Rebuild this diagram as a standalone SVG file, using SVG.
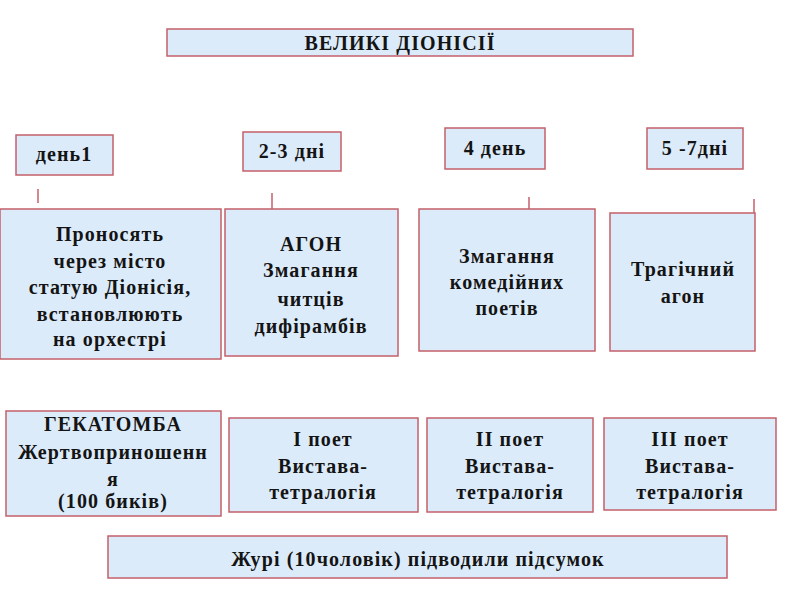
<svg xmlns="http://www.w3.org/2000/svg" width="800" height="600" viewBox="0 0 800 600">
<style>
.box{fill:#dcebfa;stroke:#c4606a;stroke-width:1.5}
.t{font-family:"Liberation Serif","DejaVu Serif",serif;font-weight:bold;font-size:20px;fill:#141414;text-anchor:middle;letter-spacing:1.1px}
.c{stroke:#c4606a;stroke-width:1.5;fill:none}
</style>
<rect width="800" height="600" fill="#ffffff"/>
<g id="title"><rect class="box" x="167" y="29" width="466" height="27"/><text class="t" x="400" y="50">ВЕЛИКІ ДІОНІСІЇ</text></g>
<g id="day1"><rect class="box" x="16" y="135" width="97" height="40"/><text class="t" x="64" y="161">день1</text></g>
<g id="day23"><rect class="box" x="243" y="132" width="98" height="39"/><text class="t" x="292" y="158">2-3 дні</text></g>
<g id="day4"><rect class="box" x="445" y="128" width="100" height="41"/><text class="t" x="495" y="155">4 день</text></g>
<g id="day57"><rect class="box" x="647" y="128" width="96" height="41"/><text class="t" x="695" y="155">5 -7дні</text></g>
<g id="connectors">
<line class="c" x1="38" y1="189" x2="38" y2="203"/>
<line class="c" x1="272" y1="193" x2="272" y2="209"/>
<line class="c" x1="529" y1="197" x2="529" y2="209"/>
<line class="c" x1="754" y1="199" x2="754" y2="213"/>
</g>
<g id="procession"><rect class="box" x="0" y="209" width="221" height="150"/>
<text class="t"><tspan x="110" y="241">Проносять</tspan><tspan x="110" y="268">через місто</tspan><tspan x="110" y="294">статую Діонісія,</tspan><tspan x="110" y="321">встановлюють</tspan><tspan x="110" y="346">на орхестрі</tspan></text></g>
<g id="agon"><rect class="box" x="225" y="209" width="173" height="147"/>
<text class="t"><tspan x="311" y="251">АГОН</tspan><tspan x="311" y="277">Змагання</tspan><tspan x="311" y="306">читців</tspan><tspan x="311" y="333">дифірамбів</tspan></text></g>
<g id="comedy"><rect class="box" x="419" y="209" width="176" height="142"/>
<text class="t"><tspan x="507" y="263">Змагання</tspan><tspan x="507" y="289">комедійних</tspan><tspan x="507" y="315">поетів</tspan></text></g>
<g id="tragedy"><rect class="box" x="610" y="213" width="145" height="138"/>
<text class="t"><tspan x="683" y="276">Трагічний</tspan><tspan x="683" y="303">агон</tspan></text></g>
<g id="hecatomb"><rect class="box" x="6" y="411" width="215" height="105"/>
<text class="t"><tspan x="113" y="431">ГЕКАТОМБА</tspan><tspan x="113" y="459">Жертвоприношенн</tspan><tspan x="113" y="486">я</tspan><tspan x="113" y="508">(100 биків)</tspan></text></g>
<g id="poet1"><rect class="box" x="229" y="418" width="189" height="94"/>
<text class="t"><tspan x="323" y="446">І поет</tspan><tspan x="323" y="473">Вистава-</tspan><tspan x="323" y="499">тетралогія</tspan></text></g>
<g id="poet2"><rect class="box" x="427" y="418" width="166" height="94"/>
<text class="t"><tspan x="510" y="446">ІІ поет</tspan><tspan x="510" y="473">Вистава-</tspan><tspan x="510" y="499">тетралогія</tspan></text></g>
<g id="poet3"><rect class="box" x="604" y="418" width="172" height="92"/>
<text class="t"><tspan x="690" y="446">ІІІ поет</tspan><tspan x="690" y="473">Вистава-</tspan><tspan x="690" y="499">тетралогія</tspan></text></g>
<g id="jury"><rect class="box" x="108" y="536" width="619" height="42"/>
<text class="t" x="418" y="566">Журі (10чоловік) підводили підсумок</text></g>
</svg>
